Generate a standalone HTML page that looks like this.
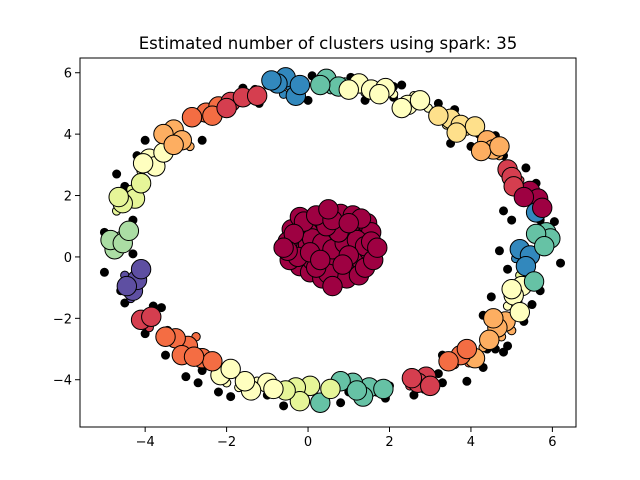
<!DOCTYPE html>
<html><head><meta charset="utf-8"><style>
body{margin:0;background:#fff;}
svg{display:block;font-family:"DejaVu Sans","Liberation Sans",sans-serif;}
</style></head><body>
<svg id="chart" width="640" height="480">
<rect width="640" height="480" fill="#fff"/>
<text x="328" y="49" text-anchor="middle" font-size="16.6" fill="#000">Estimated number of clusters using spark: 35</text>
<g id="marks"></g>
<g id="axes"></g>
</svg>
<script>
const palette = ["#9e0142","#d53e4f","#f46d43","#fdae61","#fee08b","#ffffbf","#e6f598","#abdda4","#66c2a5","#3288bd","#5e4fa2"];
const xTicks = [-4,-2,0,2,4,6];
const yTicks = [-4,-2,0,2,4,6];
const ringPoints = [
[-0.55,5.85,9,1],[-0.75,5.65,9,1],[-0.3,5.25,9,1],[-0.6,5.3,9,0],[-0.45,5.55,9,0],
[0.45,5.8,8,1],[0.75,5.55,8,1],[0.55,5.45,8,0],[0.9,5.7,8,0],
[1.25,5.65,5,1],[1.55,5.45,5,1],[1.9,5.5,5,1],[1.4,5.35,5,0],[2.1,5.3,5,0],
[2.45,4.95,5,1],[2.75,5.1,5,1],[2.95,4.85,5,0],[2.6,5.25,5,0],
[3.5,4.5,4,1],[3.75,4.3,4,1],[4.1,4.25,4,1],[3.9,4.1,4,0],[3.4,4.3,4,0],
[4.4,3.8,3,1],[4.55,3.5,3,1],[4.7,3.3,3,0],[4.3,3.6,3,0],
[4.9,2.85,1,1],[5.0,2.6,1,1],[5.2,2.5,1,0],
[5.45,2.15,0,1],[5.65,1.9,0,1],[5.5,1.75,0,0],
[5.6,1.45,9,1],
[5.85,0.8,8,1],[5.95,0.6,8,1],[5.7,0.9,8,0],[5.65,0.55,8,0],
[5.2,0.25,9,1],[5.45,0.05,9,1],[5.3,-0.2,9,0],[5.1,-0.05,9,0],
[5.35,-0.5,8,0],[5.2,-0.6,6,0],
[5.25,-0.95,5,1],[5.05,-1.25,5,1],[5.15,-1.45,5,0],[4.9,-1.6,5,0],
[4.85,-2.1,3,1],[4.65,-2.3,3,1],[5.0,-2.4,3,0],[4.75,-2.6,3,0],
[4.3,-2.95,3,0],[4.1,-3.3,3,1],[3.75,-3.2,2,1],[3.95,-3.45,2,0],[3.6,-3.5,2,0],
[2.9,-3.9,1,1],[2.7,-4.1,1,1],[2.5,-4.2,1,0],[2.85,-4.3,1,0],
[1.5,-4.25,8,1],[1.1,-4.1,8,1],[0.8,-4.05,8,1],[1.35,-4.55,8,1],[1.7,-4.4,8,0],
[0.3,-4.75,8,1],[0.05,-4.2,6,1],[-0.3,-4.25,6,1],[-0.15,-4.55,6,0],[-0.2,-4.7,6,1],
[-1.0,-4.1,5,1],[-1.4,-4.35,5,1],[-1.25,-4.05,5,0],[-1.7,-4.25,5,0],
[-2.15,-3.85,5,1],[-2.0,-4.1,5,0],
[-2.6,-3.3,2,1],[-2.95,-2.9,2,1],[-3.25,-2.65,2,1],[-3.1,-3.2,2,1],[-3.45,-2.4,2,0],[-2.75,-2.6,2,0],
[-4.1,-2.05,1,1],[-3.9,-2.3,1,0],
[-4.3,-1.1,10,1],[-4.2,-0.75,10,1],[-4.5,-0.6,10,0],[-4.55,-0.9,10,0],[-4.35,-1.35,10,0],
[-4.75,0.25,7,1],[-4.85,0.55,7,1],[-4.6,0.7,7,0],[-4.9,0.35,7,0],
[-4.25,1.9,6,1],[-4.55,1.75,6,1],[-4.7,1.5,6,0],[-4.35,2.2,6,0],
[-3.9,3.2,5,1],[-3.75,2.95,5,1],[-3.65,3.25,5,0],[-4.1,2.8,5,0],
[-3.3,4.15,3,1],[-3.1,3.8,3,1],[-3.35,3.95,3,0],[-2.9,3.6,3,0],
[-2.5,4.7,2,1],[-2.2,4.9,2,1],[-2.7,4.5,2,0],
[-1.9,5.05,1,1],[-1.6,5.2,1,1],[-1.3,5.45,1,0],
[-0.2,5.6,9,1],[0.3,5.6,8,1],[1.0,5.45,5,1],[1.75,5.3,5,1],[2.3,4.85,5,1],[3.2,4.6,4,1],[3.65,4.05,4,1],[4.25,3.45,3,1],[4.7,3.6,3,1],[5.05,2.3,1,1],[5.3,1.95,0,1],[5.75,1.6,0,1],[5.6,0.75,8,1],[5.8,0.35,8,1],[5.35,-0.3,9,1],[5.55,-0.8,8,1],[5.0,-1.05,5,1],[5.2,-1.8,5,1],[4.55,-2.0,3,1],[4.45,-2.7,3,1],[3.9,-3.0,2,1],[3.45,-3.4,2,1],[3.0,-4.2,1,1],[2.55,-3.95,1,1],[1.85,-4.3,8,1],[1.2,-4.35,8,1],[0.55,-4.3,6,1],[-0.55,-4.35,6,1],[-0.85,-4.3,5,1],[-1.55,-4.05,5,1],[-1.9,-3.65,5,1],[-2.35,-3.4,2,1],[-2.8,-3.25,2,1],[-3.5,-2.6,2,1],[-3.85,-1.95,1,1],[-4.45,-0.95,10,1],[-4.1,-0.4,10,1],[-4.55,0.45,7,1],[-4.4,0.85,7,1],[-4.65,1.95,6,1],[-4.1,2.4,6,1],[-4.05,3.05,5,1],[-3.55,3.4,5,1],[-3.55,4.0,3,1],[-3.3,3.65,3,1],[-2.85,4.55,2,1],[-2.35,4.6,2,1],[-2.0,4.85,1,1],[-1.25,5.25,1,1],[-0.9,5.75,9,1]
];
const noisePoints = [
[-1.0,5.6],[0.1,5.9],[1.05,5.85],[2.3,5.6],[3.2,5.0],[3.6,4.8],[4.2,4.0],[4.6,3.95],[4.8,3.3],[5.35,2.9],[5.6,2.4],[5.7,1.2],[6.05,1.15],[6.2,-0.2],[5.7,-1.1],[5.5,-1.55],[5.3,-2.1],[4.9,-2.9],[4.6,-3.0],[4.3,-3.6],[3.3,-3.2],[3.3,-4.1],[2.6,-4.5],[2.0,-4.2],[1.0,-4.4],[0.8,-4.75],[-0.5,-4.5],[-0.6,-4.85],[-1.9,-4.55],[-2.2,-4.4],[-2.7,-4.1],[-2.6,-3.7],[-3.0,-3.9],[-3.6,-2.7],[-3.8,-1.6],[-3.6,-1.65],[-4.5,-1.5],[-4.0,-0.3],[-4.6,-1.1],[-5.0,0.8],[-4.3,1.2],[-4.5,2.3],[-4.7,2.7],[-4.2,3.3],[-4.0,3.8],[-2.6,3.8],[-2.3,4.9],[-1.2,5.0],[-1.6,5.5],[0.0,5.1],[1.4,5.1],[2.1,5.55],[3.1,4.6],[3.5,3.7],[4.0,3.6],[4.8,1.5],[5.0,1.2],[4.7,0.2],[4.9,-0.4],[4.5,-1.3],[4.3,-1.9],[4.8,-3.1],[3.2,-3.8],[1.9,-4.6],[-1.0,-4.5],[-3.5,-3.2],[-4.0,-2.5],[-3.6,-2.5],[-4.3,0.1],[-5.0,-0.5],[2.1,5.2],[3.9,-4.05],[4.4,-3.0]
];
const blobPoints = [
[-0.35,0.2],[-0.3,0.6],[-0.2,-0.3],[-0.1,1.0],[0.0,0.4],[0.05,-0.5],[0.15,1.2],[0.2,0.0],[0.25,0.7],[0.35,-0.7],[0.45,0.3],[0.5,1.3],[0.55,-0.2],[0.6,0.9],[0.7,0.5],[0.75,-0.6],[0.85,0.1],[0.9,1.2],[1.0,0.7],[1.05,-0.3],[1.15,0.3],[1.2,1.0],[1.3,-0.1],[1.35,0.6],[1.45,1.1],[1.5,0.2],[1.55,0.8],[-0.45,-0.1],[-0.4,0.9],[0.1,-0.1],[0.4,-0.4],[0.95,-0.7],[0.3,1.0],[0.8,1.4],[1.25,-0.6],[0.65,0.0],[0.0,0.8],[-0.2,1.3],[1.1,1.35],[-0.5,0.5],
[-0.25,0.0],[0.1,0.6],[0.35,0.45],[0.6,0.25],[0.9,0.45],[1.2,0.55],[1.4,0.35],[0.5,-0.55],[0.2,-0.35],[1.0,0.05],[0.75,0.8],[0.45,1.0],[-0.1,1.15],[1.3,1.25],[1.55,0.5],[-0.35,0.75],[0.05,0.15],[0.85,-0.25],[1.4,-0.35],[0.2,1.35],[0.6,1.2],[1.0,1.1],[-0.5,0.2],[1.6,-0.1],[0.3,-0.1],[1.7,0.3],[-0.6,0.3],[0.5,1.55],[0.6,-0.95]
];
const L=80,R=576,T=58,B=427;
const xMin=-5.6,xMax=6.58,yMin=-5.54,yMax=6.48;
function sx(v){return L+(v-xMin)/(xMax-xMin)*(R-L);}
function sy(v){return B-(v-yMin)/(yMax-yMin)*(B-T);}
const NS="http://www.w3.org/2000/svg";
const marks=document.getElementById('marks');
const axes=document.getElementById('axes');
function dot(x,y,r,fill,name){
  const c=document.createElementNS(NS,'circle');
  c.setAttribute('cx',sx(x));c.setAttribute('cy',sy(y));c.setAttribute('r',r);
  c.setAttribute('fill',fill);c.setAttribute('stroke','#000');c.setAttribute('stroke-width','1');
  
  
  marks.appendChild(c);
}
noisePoints.forEach(p=>dot(p[0],p[1],4,'#000','noise-point'));
ringPoints.filter(p=>!p[3]).forEach(p=>dot(p[0],p[1],4.2,palette[p[2]],'border-point'));
blobPoints.forEach(p=>dot(p[0],p[1],9.7,palette[0],'core-point'));
ringPoints.filter(p=>p[3]).forEach(p=>dot(p[0],p[1],9.7,palette[p[2]],'core-point'));
const frame=document.createElementNS(NS,'rect');
frame.setAttribute('x',L);frame.setAttribute('y',T);frame.setAttribute('width',R-L);frame.setAttribute('height',B-T);
frame.setAttribute('fill','none');frame.setAttribute('stroke','#000');frame.setAttribute('stroke-width','1');


axes.appendChild(frame);
function fmt(v){return v<0?'\u2212'+(-v):''+v;}
xTicks.forEach(v=>{
  const l=document.createElementNS(NS,'line');
  l.setAttribute('x1',sx(v));l.setAttribute('x2',sx(v));l.setAttribute('y1',B);l.setAttribute('y2',B+5);l.setAttribute('stroke','#000');
  
  
  axes.appendChild(l);
  const t=document.createElementNS(NS,'text');
  t.setAttribute('x',sx(v));t.setAttribute('y',B+19);t.setAttribute('text-anchor','middle');t.setAttribute('font-size','13');
  t.textContent=fmt(v);
  
  
  axes.appendChild(t);
});
yTicks.forEach(v=>{
  const l=document.createElementNS(NS,'line');
  l.setAttribute('x1',L-5);l.setAttribute('x2',L);l.setAttribute('y1',sy(v));l.setAttribute('y2',sy(v));l.setAttribute('stroke','#000');
  
  
  axes.appendChild(l);
  const t=document.createElementNS(NS,'text');
  t.setAttribute('x',L-8);t.setAttribute('y',sy(v)+5);t.setAttribute('text-anchor','end');t.setAttribute('font-size','13');
  t.textContent=fmt(v);
  
  
  axes.appendChild(t);
});
</script>
</body></html>
